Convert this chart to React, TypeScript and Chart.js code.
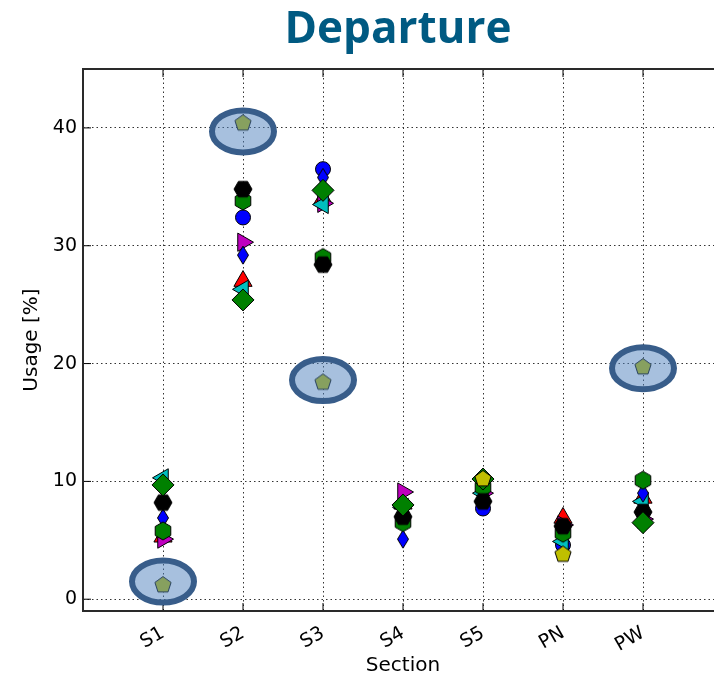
import React, { useEffect, useRef } from 'react';
import { Chart, registerables } from 'chart.js';

Chart.register(...registerables);

const categories = ['S1', 'S2', 'S3', 'S4', 'S5', 'PN', 'PW'];
const yTicks = [0, 10, 20, 30, 40];

const blueCircle = [null, 32.4, 36.5, null, 7.7, 4.6, null];
const redTriangle = [5.3, 27.0, 34.0, 8.1, null, 6.9, 8.6];
const magentaRight = [5.1, 30.3, 33.6, 9.1, 9.0, 6.3, 6.8];
const cyanLeft = [10.3, 26.3, 33.5, 7.8, 9.0, 4.9, 8.3];
const blueThinDiamond = [6.9, 29.2, 35.8, 5.1, null, null, 9.0];
const greenHexagon = [5.8, 33.8, 29.0, 6.5, 9.5, 5.6, 10.1];
const blackHexagon = [8.2, 34.8, 28.4, 7.0, 8.3, 6.2, 7.4];
const greenDiamond = [9.7, 25.4, 34.7, 8.0, 10.2, null, 6.5];
const yellowPentagon = [1.2, 40.4, 18.4, null, 10.2, 3.8, 19.7];

const highlightCategories = ['S1', 'S2', 'S3', 'PW'];
const highlightValues = [1.5, 39.7, 18.6, 19.6];

function makeShape(w: number, h: number, pts: number[][], fill: string): HTMLCanvasElement {
  const c = document.createElement('canvas');
  c.width = w;
  c.height = h;
  const ctx = c.getContext('2d')!;
  ctx.beginPath();
  pts.forEach((p, i) => (i === 0 ? ctx.moveTo(p[0], p[1]) : ctx.lineTo(p[0], p[1])));
  ctx.closePath();
  ctx.fillStyle = fill;
  ctx.fill();
  ctx.strokeStyle = '#000';
  ctx.lineWidth = 1;
  ctx.stroke();
  return c;
}

function polygon(n: number, r: number, startDeg: number, size: number): number[][] {
  const pts: number[][] = [];
  for (let k = 0; k < n; k++) {
    const a = ((startDeg + (360 / n) * k) * Math.PI) / 180;
    pts.push([size / 2 + r * Math.cos(a), size / 2 + r * Math.sin(a)]);
  }
  return pts;
}

export default function App() {
  const ref = useRef<HTMLCanvasElement>(null);

  useEffect(() => {
    const canvas = ref.current!;
    document.body.style.overflow = 'hidden';

    const hexPointy = (fill: string) => makeShape(22, 22, polygon(6, 9, -90, 22), fill);
    const hexFlat = (fill: string) => makeShape(22, 22, polygon(6, 9, 0, 22), fill);
    const pentagon = (fill: string) => makeShape(22, 22, polygon(5, 8.5, -90, 22), fill);
    const thinDiamond = (fill: string) =>
      makeShape(14, 22, [[7, 2], [12.5, 11], [7, 20], [1.5, 11]], fill);

    const toPts = (arr: (number | null)[]) =>
      arr.map((v, i) => ({ x: i + 1, y: v })).filter((p) => p.y !== null);

    const series = [
      { data: blueCircle, style: 'circle', color: '#0000ff', radius: 7.5, rotation: 0 },
      { data: redTriangle, style: 'triangle', color: '#ff0000', radius: 10.5, rotation: 0 },
      { data: magentaRight, style: 'triangle', color: '#bf00bf', radius: 10.5, rotation: 90 },
      { data: cyanLeft, style: 'triangle', color: '#00bfbf', radius: 10.5, rotation: -90 },
      { data: blueThinDiamond, style: thinDiamond('#0000ff'), color: '#0000ff', radius: 8, rotation: 0 },
      { data: greenHexagon, style: hexPointy('#008000'), color: '#008000', radius: 8, rotation: 0 },
      { data: blackHexagon, style: hexFlat('#000000'), color: '#000000', radius: 8, rotation: 0 },
      { data: greenDiamond, style: 'rectRot', color: '#008000', radius: 11, rotation: 0 },
      { data: yellowPentagon, style: pentagon('#bfbf00'), color: '#bfbf00', radius: 8, rotation: 0 },
    ];

    const datasets = series.map((s, i) => ({
      data: toPts(s.data),
      pointStyle: s.style as any,
      pointRadius: s.radius,
      pointRotation: s.rotation,
      backgroundColor: s.color,
      borderColor: '#000000',
      borderWidth: 1,
      showLine: false,
      order: series.length - i,
    }));

    const framePlugin = {
      id: 'frame',
      afterDatasetsDraw(chart: any) {
        const { ctx, chartArea: a, scales } = chart;
        ctx.save();
        ctx.strokeStyle = '#000';
        ctx.lineWidth = 1;
        yTicks.forEach((t) => {
          const y = scales.y.getPixelForValue(t);
          ctx.beginPath();
          ctx.moveTo(a.left, y);
          ctx.lineTo(a.left + 8, y);
          ctx.moveTo(a.right, y);
          ctx.lineTo(a.right - 8, y);
          ctx.stroke();
        });
        categories.forEach((_, i) => {
          const x = scales.x.getPixelForValue(i + 1);
          ctx.beginPath();
          ctx.moveTo(x, a.bottom);
          ctx.lineTo(x, a.bottom - 8);
          ctx.moveTo(x, a.top);
          ctx.lineTo(x, a.top + 8);
          ctx.stroke();
        });
        ctx.strokeStyle = '#2a2a2a';
        ctx.lineWidth = 2;
        ctx.strokeRect(a.left, a.top, a.right - a.left, a.bottom - a.top);

        highlightCategories.forEach((cat, i) => {
          const x = scales.x.getPixelForValue(categories.indexOf(cat) + 1);
          const y = scales.y.getPixelForValue(highlightValues[i]);
          ctx.beginPath();
          ctx.ellipse(x, y, 31, 21, 0, 0, Math.PI * 2);
          ctx.fillStyle = 'rgba(79,129,189,0.5)';
          ctx.fill();
          ctx.strokeStyle = '#385d8a';
          ctx.lineWidth = 6;
          ctx.stroke();
        });

        ctx.font = 'bold 44px "Open Sans"';
        ctx.fillStyle = '#005a82';
        ctx.textAlign = 'center';
        ctx.textBaseline = 'alphabetic';
        ctx.fillText('Departure', 398, 43);
        ctx.restore();
      },
    };

    const tickFont = { family: '"DejaVu Sans"', size: 19 };
    const titleFont = { family: '"DejaVu Sans"', size: 20 };

    const chart = new Chart(canvas, {
      type: 'scatter',
      data: { datasets: datasets as any },
      options: {
        responsive: false,
        animation: false,
        devicePixelRatio: 1,
        events: [],
        layout: { padding: { top: 69, right: 17, left: 0, bottom: 0 } },
        plugins: { legend: { display: false }, tooltip: { enabled: false }, title: { display: false } },
        scales: {
          x: {
            type: 'linear',
            min: 0,
            max: 8,
            afterBuildTicks: (axis: any) => {
              axis.ticks = categories.map((_, i) => ({ value: i + 1 }));
            },
            afterFit: (axis: any) => {
              axis.height = 64;
            },
            ticks: {
              autoSkip: false,
              minRotation: 30,
              maxRotation: 30,
              padding: 11,
              color: '#000',
              font: tickFont,
              callback: (v: any) => categories[Number(v) - 1] ?? '',
            },
            grid: { color: '#333', lineWidth: 1, drawTicks: false },
            border: { display: false, dash: [1.5, 3] },
            title: { display: true, text: 'Section', color: '#000', font: titleFont, padding: { top: 0, bottom: -3 } },
          },
          y: {
            type: 'linear',
            min: -1,
            max: 45,
            afterBuildTicks: (axis: any) => {
              axis.ticks = yTicks.map((v) => ({ value: v }));
            },
            afterFit: (axis: any) => {
              axis.width = 83;
            },
            ticks: { padding: 6, color: '#000', font: tickFont },
            grid: { color: '#333', lineWidth: 1, drawTicks: false },
            border: { display: false, dash: [1.5, 3] },
            title: { display: true, text: 'Usage [%]', color: '#000', font: titleFont, padding: { top: 20, bottom: 0 } },
          },
        },
      },
      plugins: [framePlugin],
    });
    return () => chart.destroy();
  }, []);

  return (
    <div style={{ position: 'fixed', left: 0, top: 0, width: 740, height: 675, background: '#fff' }}>
      <canvas ref={ref} width={740} height={675} style={{ width: 740, height: 675, display: 'block' }} />
    </div>
  );
}
